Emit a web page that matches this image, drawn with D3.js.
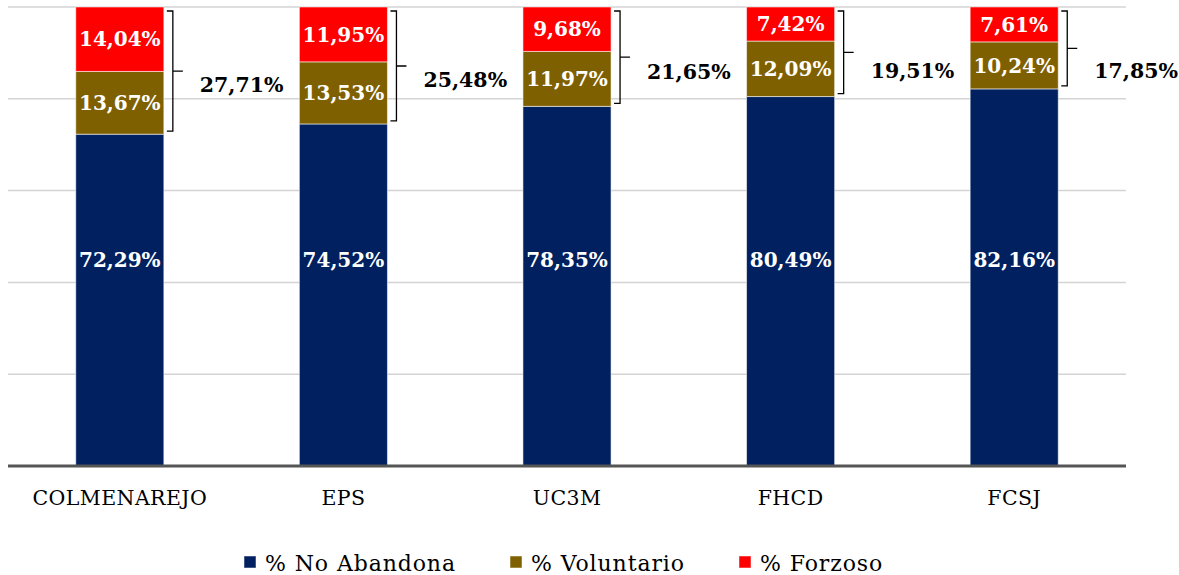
<!DOCTYPE html>
<html>
<head>
<meta charset="utf-8">
<script src="https://cdn.jsdelivr.net/npm/d3@7"></script>
<style>
  body { margin: 0; background: #fff; }
  svg { display: block; }
  svg text { font-family: "DejaVu Serif", serif; }
</style>
</head>
<body>
<svg id="chart"></svg>
<script>
// data
var centros = ["COLMENAREJO", "EPS", "UC3M", "FHCD", "FCSJ"];
var noAbandona = [72.29, 74.52, 78.35, 80.49, 82.16];
var voluntario = [13.67, 13.53, 11.97, 12.09, 10.24];
var forzoso = [14.04, 11.95, 9.68, 7.42, 7.61];
var totalAbandono = [27.71, 25.48, 21.65, 19.51, 17.85];
var yTicks = [0, 20, 40, 60, 80, 100];
var seriesNames = ["% No Abandona", "% Voluntario", "% Forzoso"];
var seriesColors = ["#002060", "#7f6000", "#ff0000"];

var width = 1179, height = 575;
var margins = {top: 7, right: 53, bottom: 109, left: 8};

var svg = d3.select("#chart")
  .attr("width", width)
  .attr("height", height);

var fmt = function(v) { return v.toFixed(2).replace(".", ",") + "%"; };

// scales
var xScale = d3.scaleBand()
  .domain(centros)
  .range([margins.left, width - margins.right])
  .paddingInner(0.606)
  .paddingOuter(0.303);

var yScale = d3.scaleLinear()
  .domain([0, 100])
  .range([height - margins.bottom, margins.top]);

// gridlines
svg.append("g")
  .selectAll("line")
  .data(yTicks.slice(1))
  .enter()
  .append("line")
  .attr("x1", margins.left)
  .attr("x2", width - margins.right)
  .attr("y1", function(d) { return yScale(d); })
  .attr("y2", function(d) { return yScale(d); })
  .attr("stroke", "#d4d4d4")
  .attr("stroke-width", 1.5);

// stack the three series
var rows = centros.map(function(c, i) {
  return {centro: c, s0: noAbandona[i], s1: voluntario[i], s2: forzoso[i]};
});
var stack = d3.stack().keys(["s0", "s1", "s2"]);
var layers = stack(rows);

var layerG = svg.append("g")
  .selectAll("g")
  .data(layers)
  .enter()
  .append("g")
  .attr("fill", function(d, i) { return seriesColors[i]; });

layerG.selectAll("rect")
  .data(function(d) { return d; })
  .enter()
  .append("rect")
  .attr("x", function(d) { return xScale(d.data.centro); })
  .attr("width", xScale.bandwidth())
  .attr("y", function(d) { return yScale(d[1]); })
  .attr("height", function(d) { return yScale(d[0]) - yScale(d[1]); })
  .attr("stroke", "rgba(255,255,255,0.55)")
  .attr("stroke-width", 1);

// labels inside the segments (the big navy one sits a bit above its middle)
layerG.selectAll("text")
  .data(function(d) { return d; })
  .enter()
  .append("text")
  .attr("x", function(d) { return xScale(d.data.centro) + xScale.bandwidth() / 2; })
  .attr("y", function(d) {
    if (d[0] === 0) return yScale(45);
    return (yScale(d[0]) + yScale(d[1])) / 2;
  })
  .attr("dy", "0.36em")
  .attr("text-anchor", "middle")
  .attr("fill", "#fff")
  .attr("font-weight", "bold")
  .attr("font-size", "20px")
  .text(function(d) { return fmt(d[1] - d[0]); });

// brackets with the total of abandono
var brG = svg.append("g");
centros.forEach(function(c, i) {
  var x0 = xScale(c) + xScale.bandwidth() + 3;
  var x1 = x0 + 6;
  var yTop = yScale(100) + 4;
  var yBot = yScale(noAbandona[i]) - 3;
  var yMid = (yTop + yBot) / 2;
  var p = d3.path();
  p.moveTo(x0, yTop);
  p.lineTo(x1, yTop);
  p.lineTo(x1, yBot);
  p.lineTo(x0, yBot);
  p.moveTo(x1, yMid);
  p.lineTo(x1 + 10, yMid);
  brG.append("path")
    .attr("d", p.toString())
    .attr("fill", "none")
    .attr("stroke", "#000")
    .attr("stroke-width", 1.3);
  brG.append("text")
    .attr("x", x1 + 27)
    .attr("y", Math.max(yMid + 14, 71))
    .attr("dy", "0.36em")
    .attr("text-anchor", "start")
    .attr("font-weight", "bold")
    .attr("font-size", "20.5px")
    .attr("fill", "#000")
    .text(fmt(totalAbandono[i]));
});

// x axis
var xAxis = svg.append("g")
  .attr("transform", "translate(0," + yScale(0) + ")")
  .call(d3.axisBottom(xScale).tickSize(0).tickPadding(24));
xAxis.select(".domain")
  .attr("d", "M" + margins.left + ",0H" + (width - margins.right))
  .attr("stroke", "#555")
  .attr("stroke-width", 3);
xAxis.selectAll("text")
  .style("font-family", "'DejaVu Serif', serif")
  .attr("font-size", "20.5px")
  .attr("letter-spacing", "0.4px")
  .attr("fill", "#000");

// legend
var legendX = [244, 510, 739];
var legend = svg.append("g");
seriesNames.forEach(function(n, i) {
  legend.append("rect")
    .attr("x", legendX[i])
    .attr("y", 556)
    .attr("width", 12)
    .attr("height", 12)
    .attr("fill", seriesColors[i])
    .attr("stroke", "rgba(255,255,255,0.5)");
  legend.append("text")
    .attr("x", legendX[i] + 21)
    .attr("y", 563)
    .attr("dy", "0.36em")
    .attr("font-size", "22px")
    .attr("letter-spacing", "0.9px")
    .attr("fill", "#000")
    .text(n);
});
</script>
</body>
</html>
